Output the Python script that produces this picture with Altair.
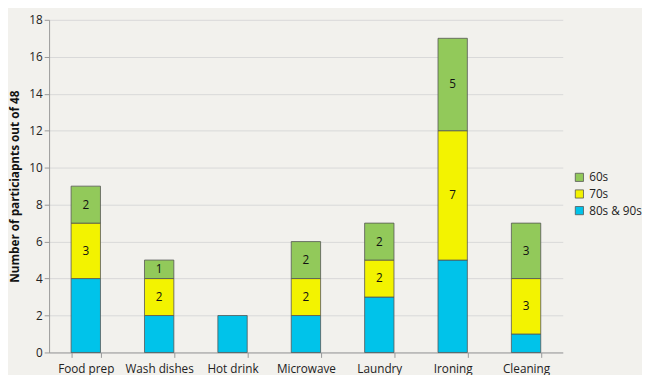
import altair as alt
import pandas as pd

categories = ["Food prep", "Wash dishes", "Hot drink", "Microwave", "Laundry", "Ironing", "Cleaning"]
s80_90 = [4, 2, 2, 2, 3, 5, 1]
s70 = [3, 2, 0, 2, 2, 7, 3]
s60 = [2, 1, 0, 2, 2, 5, 3]
series_names = ["80s & 90s", "70s", "60s"]
series_colors = ["#00c3ea", "#f3f300", "#92c95a"]
y_ticks = [0, 2, 4, 6, 8, 10, 12, 14, 16, 18]

rows = []
for i, c in enumerate(categories):
    base = 0
    for name, vals in zip(series_names, [s80_90, s70, s60]):
        v = vals[i]
        if v > 0:
            rows.append({"cat": c, "series": name, "value": v,
                         "lo": base, "hi": base + v, "mid": base + v / 2,
                         "label": str(v) if name != "80s & 90s" else ""})
        base += v
df = pd.DataFrame(rows)

font = "Open Sans"
x = alt.X("cat:N", sort=categories, title=None,
          scale=alt.Scale(paddingInner=0.6, paddingOuter=0.3),
          axis=alt.Axis(labelAngle=0, labelFontSize=12, labelColor="#222", labelFont=font,
                        tickBand="extent", domainColor="#999", tickColor="#999",
                        labelPadding=6, tickSize=5))

y_axis = alt.Axis(values=y_ticks, labelFontSize=12, labelColor="#222",
                  labelFont=font, titleFont=font, titleFontSize=12, titleFontWeight="bold",
                  titleColor="#111", gridColor="#d8d8d8", domainColor="#999",
                  tickColor="#999", tickSize=5, titlePadding=8, labelOverlap=False)
y_scale = alt.Scale(domain=[0, 18], nice=False)

bars = alt.Chart(df).mark_bar(stroke="#555", strokeWidth=0.8).encode(
    x=x,
    y=alt.Y("lo:Q", title="Number of particiapnts out of 48", scale=y_scale, axis=y_axis),
    y2="hi:Q",
    color=alt.Color("series:N", sort=series_names,
                    scale=alt.Scale(domain=series_names, range=series_colors),
                    legend=alt.Legend(title=None, orient="none", legendX=536, legendY=155,
                                      symbolType="square", symbolSize=70, symbolStrokeColor="#555",
                                      symbolStrokeWidth=0.8, labelFontSize=12, labelFont=font,
                                      labelColor="#222", rowPadding=5,
                                      values=["60s", "70s", "80s & 90s"])),
    order=alt.Order("lo:Q"),
)

text = alt.Chart(df[df["label"] != ""]).mark_text(fontSize=12, font=font, color="#111").encode(
    x=alt.X("cat:N", sort=categories, title=None),
    y=alt.Y("mid:Q", title="Number of particiapnts out of 48", scale=y_scale, axis=y_axis),
    text="label:N",
)

chart = (bars + text).properties(
    width=525, height=340, background="#f2f1ed",
    padding={"left": 0, "top": 2, "right": 0, "bottom": 0},
).configure_view(stroke=None)

chart.save("out.html", embed_options={"renderer": "svg", "actions": False})
